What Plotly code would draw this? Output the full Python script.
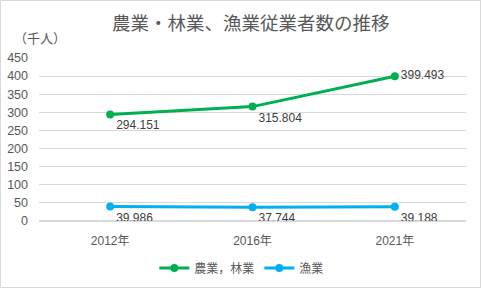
import plotly.graph_objects as go

years = ["2012年", "2016年", "2021年"]
agri = [294.151, 315.804, 399.493]
fish = [39.986, 37.744, 39.188]
agri_pos = ["bottom right", "bottom right", "middle right"]
fish_pos = ["bottom right", "bottom right", "bottom right"]

W, H = 482, 289
L, R, T, B = 39, 16, 58, 68
pw = W - L - R
ph = H - T - B

font_main = "Liberation Sans, Noto Sans CJK JP, sans-serif"

fig = go.Figure()
fig.add_trace(go.Scatter(
    x=years, y=agri, name="農業，林業", mode="lines+markers+text",
    line=dict(color="#00B050", width=3), marker=dict(size=8, color="#00B050"),
    text=[f"{v:.3f}" for v in agri], textposition=agri_pos,
    textfont=dict(size=12, color="#404040", family=font_main),
))
fig.add_trace(go.Scatter(
    x=years, y=fish, name="漁業", mode="lines+markers+text",
    line=dict(color="#00B0F0", width=3), marker=dict(size=8, color="#00B0F0"),
    text=[f"{v:.3f}" for v in fish], textposition=fish_pos,
    textfont=dict(size=12, color="#404040", family=font_main),
))

fig.update_layout(
    width=W, height=H,
    margin=dict(l=L, r=R, t=T, b=B, autoexpand=False),
    paper_bgcolor="white", plot_bgcolor="white",
    font=dict(family=font_main, color="#595959", size=12),
    title=dict(text="農業・林業、漁業従業者数の推移", x=0.52, xanchor="center",
               y=1 - 24 / H, yanchor="middle",
               font=dict(size=18.5, color="#595959", family="Noto Sans CJK JP")),
    xaxis=dict(type="category", range=[-0.5, 2.5], showgrid=False, showline=False,
               ticks="", tickfont=dict(size=12, color="#595959"), ticklabelstandoff=11),
    yaxis=dict(range=[0, 450], dtick=50, showgrid=True, gridcolor="#D9D9D9", gridwidth=1,
               zeroline=True, zerolinecolor="#D9D9D9", showline=False, ticks="",
               tickfont=dict(size=12.5, color="#595959"), ticklabelstandoff=10),
    showlegend=True,
    legend=dict(orientation="h", x=0.475, xanchor="center", y=-(268 - (T + ph)) / ph,
                yanchor="middle", font=dict(size=12, color="#595959", family="Noto Sans CJK JP")),
    annotations=[dict(text="（千人）", xref="paper", yref="paper",
                      x=-27 / pw, y=(T + ph - 37) / ph,
                      xanchor="left", yanchor="middle", showarrow=False,
                      font=dict(size=13, color="#595959", family="Noto Sans CJK JP"))],
    shapes=[dict(type="rect", xref="paper", yref="paper",
                 x0=-(L - 0.5) / pw, x1=(W - L - 1.5) / pw,
                 y0=-(B - 1.5) / ph, y1=1 + (T - 0.5) / ph,
                 line=dict(color="#D9D9D9", width=1), layer="below")],
)

fig.write_html("out.html")
